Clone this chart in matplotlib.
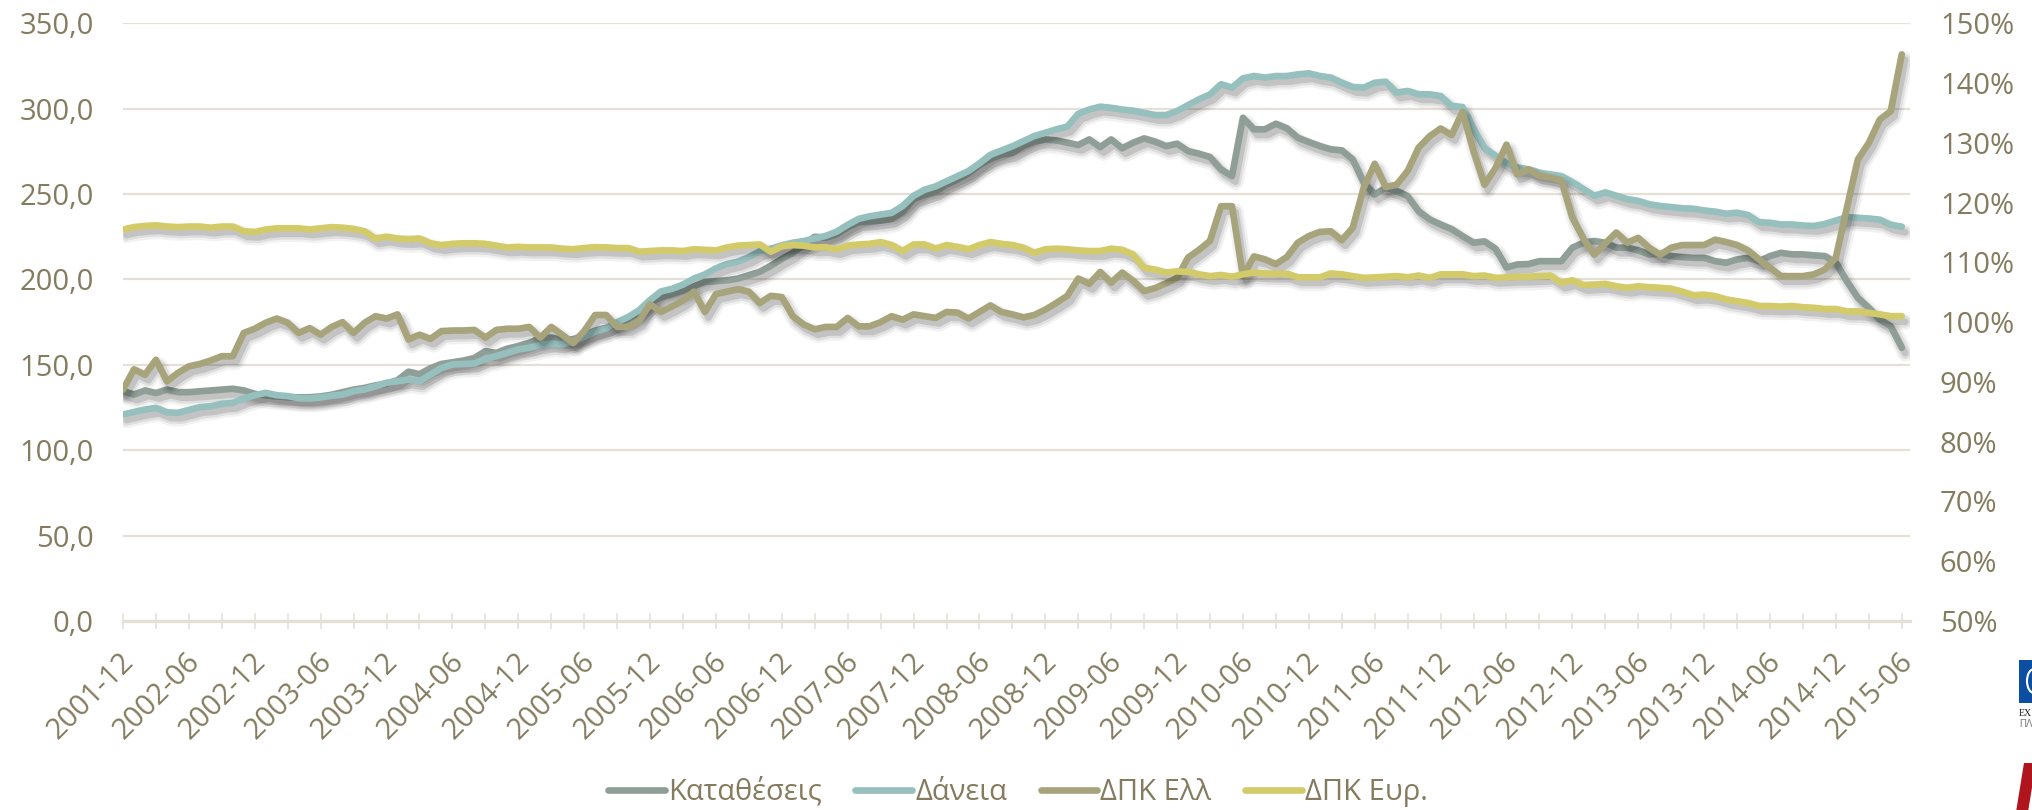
import numpy as np
import pandas as pd
import matplotlib
matplotlib.use("Agg")
import matplotlib.pyplot as plt
import matplotlib.patheffects as pe
from matplotlib.lines import Line2D
from matplotlib.patches import Rectangle, Polygon, Ellipse
from matplotlib.transforms import ScaledTranslation

# --- data --------------------------------------------------------------------
MONTHS = pd.period_range("2001-12", "2015-06", freq="M").strftime("%Y-%m").tolist()

# left axis, bn EUR
DEPOSITS = [
    134.6, 132.6, 135.0, 133.5, 135.5, 134.0, 134.0, 134.5, 135.0, 135.5,
    136.0, 135.0, 133.0, 132.0, 131.5, 131.0, 131.0, 131.0, 131.5, 132.5,
    134.0, 135.5, 136.5, 138.0, 139.0, 141.0, 146.0, 144.5, 148.0, 150.5,
    151.5, 152.5, 154.0, 158.0, 157.0, 159.5, 161.0, 163.0, 165.5, 166.0,
    164.5, 165.0, 167.5, 170.0, 171.7, 174.0, 177.0, 180.5, 186.5, 189.5,
    191.5, 193.5, 196.0, 198.5, 199.0, 199.5, 200.5, 202.5, 204.5, 208.0,
    212.0, 215.5, 220.5, 225.0, 224.5, 226.5, 230.5, 233.5, 234.0, 234.5,
    235.5, 239.5, 247.0, 249.5, 251.5, 255.5, 258.5, 262.0, 267.0, 270.5,
    273.0, 274.2, 278.1, 280.8, 282.0, 281.4, 280.1, 278.7, 282.0, 277.5,
    282.0, 276.8, 280.1, 282.6, 280.7, 278.1, 279.5, 275.2, 273.6, 271.7,
    264.5, 260.5, 294.7, 287.9, 287.9, 291.2, 288.5, 283.0, 280.5, 278.1,
    276.2, 275.6, 270.3, 256.6, 249.8, 253.7, 251.8, 248.8, 240.0, 235.2,
    232.2, 229.5, 225.4, 221.5, 222.3, 218.0, 207.0, 208.8, 209.0, 210.7,
    210.7, 210.7, 218.6, 221.5, 222.5, 221.5, 218.6, 218.6, 217.0, 214.7,
    215.0, 213.7, 213.1, 212.7, 212.7, 210.7, 209.8, 211.7, 212.7, 210.7,
    213.7, 215.6, 214.7, 214.7, 214.1, 213.7, 209.8, 199.0, 189.3, 183.4,
    176.6, 172.6, 160.0,
]
LOANS = [
    120.9, 122.4, 123.8, 124.8, 122.2, 121.9, 123.6, 125.2, 125.8, 127.2,
    127.7, 130.3, 132.2, 133.6, 132.2, 131.7, 130.5, 130.3, 130.9, 131.9,
    132.6, 134.6, 135.6, 137.5, 139.5, 140.4, 141.4, 140.4, 144.3, 148.2,
    150.2, 150.5, 150.8, 153.5, 155.1, 157.0, 159.0, 160.0, 161.5, 162.5,
    162.0, 164.0, 166.5, 169.5, 171.5, 175.0, 178.0, 182.0, 188.0, 193.0,
    194.5, 197.0, 200.5, 203.0, 206.5, 209.0, 210.5, 213.0, 216.5, 218.0,
    220.0, 221.5, 222.5, 224.0, 225.5, 228.0, 232.0, 235.5, 237.0, 238.0,
    239.0, 243.0, 249.0, 252.5, 254.5, 257.5, 260.5, 263.5, 268.0, 273.0,
    275.5, 278.0, 281.0, 284.0, 285.9, 287.9, 289.5, 297.0, 299.5, 301.2,
    300.5, 299.5, 298.8, 297.5, 296.3, 296.3, 298.6, 302.1, 305.5, 308.4,
    314.3, 312.3, 317.8, 319.1, 318.2, 319.1, 319.1, 320.1, 320.7, 319.1,
    318.2, 315.2, 312.7, 312.3, 315.2, 315.8, 309.4, 310.4, 308.4, 308.4,
    307.4, 301.6, 301.0, 288.0, 277.0, 272.5, 268.0, 265.5, 264.5, 262.5,
    261.5, 260.5, 257.0, 253.0, 249.0, 251.0, 249.0, 247.0, 246.0, 244.0,
    243.0, 242.4, 241.7, 241.4, 240.4, 239.7, 238.5, 239.1, 237.7, 233.5,
    233.2, 232.2, 232.2, 231.6, 231.3, 232.5, 234.5, 236.5, 236.1, 235.7,
    235.0, 232.0, 230.9,
]
# right axis, loan-to-deposit ratio in %
LDR_GR = [
    88.7, 92.1, 91.2, 93.7, 90.1, 91.5, 92.6, 93.0, 93.6, 94.3,
    94.3, 98.2, 98.9, 99.9, 100.6, 99.9, 98.2, 99.0, 97.9, 99.2,
    100.0, 98.2, 99.9, 101.0, 100.6, 101.3, 97.1, 97.9, 97.2, 98.5,
    98.6, 98.6, 98.7, 97.4, 98.7, 98.9, 98.9, 99.2, 97.4, 99.2,
    97.9, 96.5, 98.5, 101.2, 101.2, 99.2, 99.2, 100.2, 103.0, 101.7,
    102.6, 103.6, 105.1, 101.7, 104.7, 105.1, 105.5, 105.1, 103.2, 104.4,
    104.2, 101.0, 99.6, 98.8, 99.2, 99.2, 100.7, 99.3, 99.3, 100.0,
    101.0, 100.4, 101.3, 101.0, 100.7, 101.7, 101.6, 100.6, 101.7, 102.8,
    101.7, 101.3, 100.8, 101.2, 102.1, 103.2, 104.4, 107.3, 106.4, 108.4,
    106.6, 108.3, 106.9, 105.2, 105.7, 106.5, 107.4, 110.8, 112.1, 113.6,
    119.4, 119.4, 107.7, 111.0, 110.5, 109.7, 110.9, 113.3, 114.4, 115.1,
    115.2, 113.7, 115.8, 122.5, 126.5, 122.6, 123.0, 125.3, 129.2, 131.1,
    132.4, 131.3, 135.2, 128.6, 123.0, 125.8, 129.7, 124.7, 125.6, 124.5,
    124.2, 123.7, 117.5, 114.0, 111.3, 113.2, 115.0, 113.3, 114.1, 112.45,
    111.3, 112.45, 112.9, 112.9, 112.9, 113.8, 113.4, 112.9, 112.0, 110.5,
    109.1, 107.7, 107.7, 107.7, 108.0, 108.8, 110.8, 119.1, 127.2, 130.0,
    133.9, 135.3, 144.8,
]
LDR_EA = [
    115.5, 115.9, 116.1, 116.2, 116.0, 115.9, 116.0, 116.0, 115.8, 116.0,
    116.0, 115.2, 115.1, 115.5, 115.7, 115.7, 115.7, 115.5, 115.7, 115.9,
    115.8, 115.6, 115.2, 114.0, 114.3, 114.0, 113.9, 114.0, 113.2, 112.9,
    113.1, 113.2, 113.2, 113.1, 112.8, 112.5, 112.6, 112.5, 112.5, 112.5,
    112.3, 112.2, 112.4, 112.55, 112.5, 112.4, 112.4, 111.8, 111.9, 112.0,
    112.0, 111.9, 112.2, 112.1, 112.0, 112.5, 112.8, 112.9, 113.0, 111.8,
    112.7, 112.9, 112.8, 112.5, 112.55, 112.2, 112.8, 113.0, 113.1, 113.4,
    112.9, 111.9, 113.0, 113.0, 112.3, 112.9, 112.6, 112.2, 112.9, 113.4,
    113.1, 112.9, 112.45, 111.6, 112.2, 112.3, 112.2, 112.0, 111.9, 111.9,
    112.3, 112.1, 111.3, 109.1, 108.8, 108.3, 108.5, 108.4, 108.0, 107.7,
    107.9, 107.6, 108.0, 108.3, 108.15, 108.1, 108.1, 107.5, 107.5, 107.5,
    108.15, 108.0, 107.7, 107.4, 107.5, 107.6, 107.7, 107.5, 107.8, 107.4,
    108.0, 108.0, 108.0, 107.7, 107.8, 107.4, 107.5, 107.6, 107.6, 107.7,
    107.8, 106.6, 107.0, 106.2, 106.3, 106.4, 106.0, 105.75, 106.0, 105.85,
    105.75, 105.6, 105.1, 104.5, 104.6, 104.35, 103.8, 103.5, 103.2, 102.7,
    102.7, 102.6, 102.7, 102.5, 102.4, 102.2, 102.2, 101.8, 101.8, 101.55,
    101.3, 101.0, 101.0,
]

NAMES = ["Καταθέσεις", "Δάνεια", "ΔΠΚ Ελλ", "ΔΠΚ Ευρ."]
LEFT_TICKS = [0, 50, 100, 150, 200, 250, 300, 350]
RIGHT_TICKS = [50, 60, 70, 80, 90, 100, 110, 120, 130, 140, 150]

# --- style ---------------------------------------------------------------------
COLORS = ["#8F9F97", "#96C0BE", "#A7A47B", "#D3CB69"]
TEXT = "#857C5F"
GRID = "#E4E0D6"
FS = 21
LW = 4.8

plt.rcParams["font.family"] = ["Open Sans", "DejaVu Sans"]

W, H = 2033, 810
fig = plt.figure(figsize=(W / 100, H / 100), dpi=100)
ax = fig.add_axes([123 / W, 1 - 621 / H, (1910 - 123) / W, (621 - 23.3) / H])
ax2 = ax.twinx()

x = np.arange(len(MONTHS))

shadow = [
    pe.SimpleLineShadow(offset=(2.5, -4), shadow_color="#000000", alpha=0.05, linewidth=LW + 7),
    pe.SimpleLineShadow(offset=(2.5, -4), shadow_color="#000000", alpha=0.08, linewidth=LW + 3.5),
    pe.SimpleLineShadow(offset=(2.5, -4), shadow_color="#000000", alpha=0.12, linewidth=LW),
    pe.Normal(),
]

line_kw = dict(linewidth=LW, solid_capstyle="round", solid_joinstyle="round",
               path_effects=shadow)
ax.plot(x, DEPOSITS, color=COLORS[0], zorder=3, **line_kw)
ax.plot(x, LOANS, color=COLORS[1], zorder=3, **line_kw)
ax2.plot(x, LDR_GR, color=COLORS[2], zorder=3, **line_kw)
ax2.plot(x, LDR_EA, color=COLORS[3], zorder=4, **line_kw)

# axes ranges
ax.set_xlim(0, 162.75)
ax.set_ylim(0, 350)
ax2.set_ylim(50, 150)

# left axis
ax.set_yticks(LEFT_TICKS)
ax.set_yticklabels([f"{v:.1f}".replace(".", ",") for v in LEFT_TICKS])
ax.tick_params(axis="y", length=0, pad=21, labelsize=FS, labelcolor=TEXT)
ax.grid(axis="y", color=GRID, linewidth=1.6, zorder=0)
ax.set_axisbelow(True)

# right axis
ax2.set_yticks(RIGHT_TICKS)
ax2.set_yticklabels([f"{v}%" for v in RIGHT_TICKS])
ax2.tick_params(axis="y", length=0, pad=21.5, labelsize=FS, labelcolor=TEXT)

# category axis: tick every 3 months, label every 6
tick_pos = list(range(0, len(MONTHS), 3))
ax.set_xticks(tick_pos)
ax.set_xticklabels([MONTHS[i] if i % 6 == 0 else "" for i in tick_pos],
                   rotation=45, ha="right", va="center", rotation_mode="anchor")
ax.tick_params(axis="x", direction="inout", length=12, width=1.1, color=GRID,
               pad=20, labelsize=FS, labelcolor=TEXT)
shift = ScaledTranslation(5 / 72, 0, fig.dpi_scale_trans)
for lab in ax.get_xticklabels():
    lab.set_transform(lab.get_transform() + shift)

for a in (ax, ax2):
    for side in ("top", "left", "right"):
        a.spines[side].set_visible(False)
ax2.spines["bottom"].set_visible(False)
ax.spines["bottom"].set_color(GRID)
ax.spines["bottom"].set_linewidth(2.3)
ax.spines["bottom"].set_zorder(1)

# legend
handles = [Line2D([], [], color=c, linewidth=LW, solid_capstyle="round") for c in COLORS]
leg = fig.legend(handles, NAMES, loc="center", bbox_to_anchor=(1018 / W, 1 - 792 / H),
                 ncol=4, frameon=False, fontsize=FS, handlelength=1.95,
                 handletextpad=0.1, columnspacing=1.15, borderaxespad=0, borderpad=0)
for t in leg.get_texts():
    t.set_color(TEXT)

# cropped logo at the right edge
def px_box(x0, y0, x1, y1):
    return x0 / W, 1 - y1 / H, (x1 - x0) / W, (y1 - y0) / H

bx, by, bw, bh = px_box(2019, 660, 2040, 703)
fig.add_artist(Rectangle((bx, by), bw, bh, transform=fig.transFigure,
                         facecolor="#0B4EA2", edgecolor="none"))
fig.add_artist(Ellipse((2034 / W, 1 - 681 / H), 14 / W, 24 / H, transform=fig.transFigure,
                       facecolor="none", edgecolor="white", linewidth=1.5))
fig.text(2019 / W, 1 - 714 / H, "ΕΧ", color="#1A1A1A", fontsize=7, va="center",
         family=["Liberation Serif", "DejaVu Serif"])
fig.text(2019 / W, 1 - 724 / H, "ΠΛ", color="#7A7A7A", fontsize=7, va="center",
         family=["Liberation Sans", "DejaVu Sans"])
red = [(2024, 763), (2036, 763), (2028, 812), (2016, 812)]
fig.add_artist(Polygon([(px / W, 1 - py / H) for px, py in red], closed=True,
                       transform=fig.transFigure, facecolor="#B0141C", edgecolor="none"))

fig.savefig("out.png", dpi=100)
